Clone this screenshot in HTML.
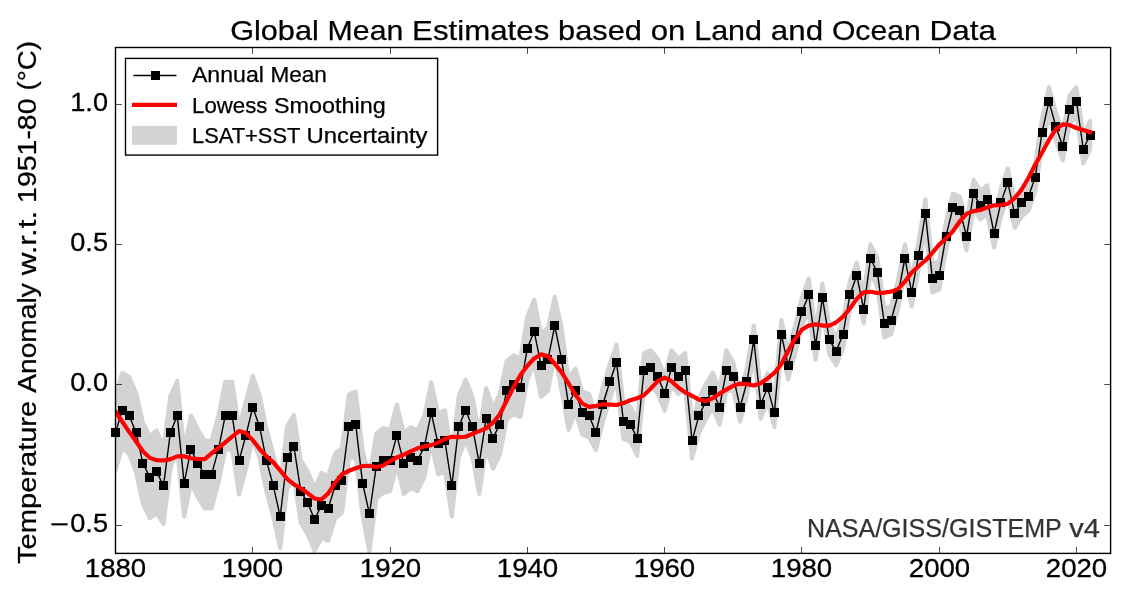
<!DOCTYPE html>
<html lang="en"><head><meta charset="utf-8"><title>Global Mean Estimates based on Land and Ocean Data</title>
<style>html,body{margin:0;padding:0;background:#fff;}body{width:1130px;height:600px;overflow:hidden;}svg{display:block;will-change:transform;}text{font-family:"Liberation Sans",sans-serif;}</style></head><body>
<svg width="1130" height="600" viewBox="0 0 1130 600">
<rect x="0" y="0" width="1130" height="600" fill="#ffffff"/>
<defs><clipPath id="ax"><rect x="115.5" y="47.5" width="995.1" height="505.9"/></clipPath></defs>
<g clip-path="url(#ax)">
<path fill="#d3d3d3" stroke="#d3d3d3" stroke-width="4.17" stroke-linejoin="round" d="M115.47,394.73 L122.33,372.83 L129.2,377.04 L136.06,392.76 L142.93,422.79 L149.79,436.54 L156.65,430.37 L163.52,447.77 L170.38,396.13 L177.25,380.97 L184.11,449.45 L190.97,415.49 L197.84,429.53 L204.7,440.75 L211.57,440.75 L218.43,415.49 L225.29,381.82 L232.16,381.82 L239.02,426.72 L245.89,401.46 L252.75,375.78 L259.61,395.43 L266.48,429.1 L273.34,454.36 L280.21,485.23 L287.07,426.3 L293.93,415.07 L300.8,459.98 L307.66,471.2 L314.53,488.04 L321.39,473.03 L328.25,475.83 L335.12,453.38 L341.98,447.77 L348.85,394.44 L355.71,391.64 L362.57,450.57 L369.44,476.11 L376.3,433.74 L383.17,428.12 L390.03,430.09 L396.89,404.83 L403.76,432.89 L410.62,427.28 L417.49,430.09 L424.35,416.05 L431.21,382.38 L438.08,413.25 L444.94,410.44 L451.81,455.35 L458.67,396.41 L465.53,379.57 L472.4,396.41 L479.26,432.89 L486.13,387.99 L492.99,407.63 L499.85,393.6 L506.72,361.05 L513.58,355.43 L520.45,358.24 L527.31,316.7 L534.17,299.87 L541.04,333.54 L547.9,327.93 L554.77,296.78 L561.63,327.93 L568.49,379.01 L575.36,368.62 L582.22,391.08 L589.09,393.88 L595.95,414.93 L602.81,386.87 L609.68,364.41 L616.54,344.77 L623.41,403.71 L630.27,406.51 L637.13,420.54 L644,353.19 L650.86,350.38 L657.73,358.8 L664.59,375.64 L671.45,350.38 L678.32,358.8 L685.18,353.19 L692.05,423.35 L698.91,398.09 L705.77,384.06 L712.64,372.83 L719.5,389.67 L726.37,350.38 L733.23,362.17 L740.09,393.04 L746.96,367.78 L753.82,325.69 L760.69,390.23 L767.55,373.4 L774.41,398.65 L781.28,320.07 L788.14,350.94 L795.01,325.69 L801.87,297.62 L808.73,278.54 L815.6,331.3 L822.46,283.59 L829.33,325.69 L836.19,336.91 L843.05,320.07 L849.92,280.78 L856.78,262.82 L863.65,294.81 L870.51,244.3 L877.37,258.33 L884.24,308.85 L891.1,306.04 L897.97,280.78 L904.83,244.3 L911.69,277.97 L918.56,241.49 L925.42,199.39 L932.29,263.94 L939.15,261.14 L946.01,221.84 L952.88,193.78 L959.74,196.59 L966.61,221.84 L973.47,179.75 L980.33,190.97 L987.2,185.36 L994.06,219.04 L1000.93,188.17 L1007.79,168.52 L1014.65,199.39 L1021.52,188.17 L1028.38,182.55 L1035.25,162.91 L1042.11,118 L1048.97,87.13 L1055.84,112.39 L1062.7,132.04 L1069.57,95.55 L1076.43,87.13 L1083.29,134.84 L1090.16,120.81 L1090.16,149.21 L1083.29,163.24 L1076.43,115.53 L1069.57,123.95 L1062.7,160.44 L1055.84,140.79 L1048.97,115.53 L1042.11,146.41 L1035.25,191.31 L1028.38,210.96 L1021.52,216.57 L1014.65,227.79 L1007.79,196.92 L1000.93,216.57 L994.06,247.44 L987.2,213.76 L980.33,219.37 L973.47,208.15 L966.61,250.25 L959.74,224.99 L952.88,222.18 L946.01,250.25 L939.15,289.54 L932.29,292.34 L925.42,227.79 L918.56,269.89 L911.69,306.38 L904.83,272.7 L897.97,309.18 L891.1,334.44 L884.24,337.25 L877.37,286.73 L870.51,272.7 L863.65,323.22 L856.78,287.85 L849.92,309.18 L843.05,348.47 L836.19,365.31 L829.33,354.09 L822.46,311.99 L815.6,359.7 L808.73,311.43 L801.87,326.02 L795.01,354.09 L788.14,379.35 L781.28,348.47 L774.41,427.06 L767.55,401.8 L760.69,418.64 L753.82,354.09 L746.96,396.18 L740.09,421.44 L733.23,390.57 L726.37,391.13 L719.5,424.81 L712.64,407.97 L705.77,419.2 L698.91,433.23 L692.05,458.49 L685.18,388.33 L678.32,393.94 L671.45,385.52 L664.59,410.78 L657.73,393.94 L650.86,385.52 L644,388.33 L637.13,455.68 L630.27,441.65 L623.41,438.84 L616.54,379.91 L609.68,399.55 L602.81,422 L595.95,450.07 L589.09,437.44 L582.22,434.63 L575.36,412.18 L568.49,429.86 L561.63,391.13 L554.77,354.93 L547.9,391.13 L541.04,396.75 L534.17,363.07 L527.31,379.91 L520.45,416.95 L513.58,414.15 L506.72,419.76 L499.85,454.56 L492.99,468.59 L486.13,448.95 L479.26,493.85 L472.4,457.37 L465.53,440.53 L458.67,457.37 L451.81,516.3 L444.94,471.4 L438.08,474.21 L431.21,443.33 L424.35,477.01 L417.49,491.04 L410.62,488.24 L403.76,493.85 L396.89,465.79 L390.03,491.04 L383.17,493.01 L376.3,498.62 L369.44,551.66 L362.57,515.46 L355.71,456.52 L348.85,459.33 L341.98,512.65 L335.12,518.27 L328.25,540.72 L321.39,537.91 L314.53,550.96 L307.66,534.12 L300.8,522.9 L293.93,477.99 L287.07,489.22 L280.21,548.16 L273.34,517.28 L266.48,492.03 L259.61,458.35 L252.75,438.7 L245.89,469.15 L239.02,494.41 L232.16,449.51 L225.29,449.51 L218.43,483.19 L211.57,508.44 L204.7,508.44 L197.84,497.22 L190.97,483.19 L184.11,516.58 L177.25,450.35 L170.38,468.87 L163.52,523.88 L156.65,513.22 L149.79,518.27 L142.93,503.95 L136.06,472.24 L129.2,454.28 L122.33,447.26 L115.47,470.28 Z"/>
<polyline fill="none" stroke="#000" stroke-width="1.39" stroke-linejoin="miter" points="115.47,432.5 122.33,410.05 129.2,415.66 136.06,432.5 142.93,463.37 149.79,477.4 156.65,471.79 163.52,485.82 170.38,432.5 177.25,415.66 184.11,483.02 190.97,449.34 197.84,463.37 204.7,474.6 211.57,474.6 218.43,449.34 225.29,415.66 232.16,415.66 239.02,460.57 245.89,435.31 252.75,407.24 259.61,426.89 266.48,460.57 273.34,485.82 280.21,516.7 287.07,457.76 293.93,446.53 300.8,491.44 307.66,502.66 314.53,519.5 321.39,505.47 328.25,508.28 335.12,485.82 341.98,480.21 348.85,426.89 355.71,424.08 362.57,483.02 369.44,513.89 376.3,466.18 383.17,460.57 390.03,460.57 396.89,435.31 403.76,463.37 410.62,457.76 417.49,460.57 424.35,446.53 431.21,412.86 438.08,443.73 444.94,440.92 451.81,485.82 458.67,426.89 465.53,410.05 472.4,426.89 479.26,463.37 486.13,418.47 492.99,438.11 499.85,424.08 506.72,390.4 513.58,384.79 520.45,387.6 527.31,348.31 534.17,331.47 541.04,365.14 547.9,359.53 554.77,325.85 561.63,359.53 568.49,404.44 575.36,390.4 582.22,412.86 589.09,415.66 595.95,432.5 602.81,404.44 609.68,381.98 616.54,362.34 623.41,421.27 630.27,424.08 637.13,438.11 644,370.76 650.86,367.95 657.73,376.37 664.59,393.21 671.45,367.95 678.32,376.37 685.18,370.76 692.05,440.92 698.91,415.66 705.77,401.63 712.64,390.4 719.5,407.24 726.37,370.76 733.23,376.37 740.09,407.24 746.96,381.98 753.82,339.89 760.69,404.44 767.55,387.6 774.41,412.86 781.28,334.27 788.14,365.14 795.01,339.89 801.87,311.82 808.73,294.98 815.6,345.5 822.46,297.79 829.33,339.89 836.19,351.11 843.05,334.27 849.92,294.98 856.78,275.34 863.65,309.01 870.51,258.5 877.37,272.53 884.24,323.05 891.1,320.24 897.97,294.98 904.83,258.5 911.69,292.18 918.56,255.69 925.42,213.59 932.29,278.14 939.15,275.34 946.01,236.05 952.88,207.98 959.74,210.79 966.61,236.05 973.47,193.95 980.33,205.17 987.2,199.56 994.06,233.24 1000.93,202.37 1007.79,182.72 1014.65,213.59 1021.52,202.37 1028.38,196.75 1035.25,177.11 1042.11,132.21 1048.97,101.33 1055.84,126.59 1062.7,146.24 1069.57,109.75 1076.43,101.33 1083.29,149.04 1090.16,135.01"/>
</g>
<g fill="#000">
<rect x="111" y="428" width="9" height="9"/>
<rect x="118" y="406" width="9" height="9"/>
<rect x="125" y="411" width="9" height="9"/>
<rect x="132" y="428" width="9" height="9"/>
<rect x="138" y="459" width="9" height="9"/>
<rect x="145" y="473" width="9" height="9"/>
<rect x="152" y="467" width="9" height="9"/>
<rect x="159" y="481" width="9" height="9"/>
<rect x="166" y="428" width="9" height="9"/>
<rect x="173" y="411" width="9" height="9"/>
<rect x="180" y="479" width="9" height="9"/>
<rect x="186" y="445" width="9" height="9"/>
<rect x="193" y="459" width="9" height="9"/>
<rect x="200" y="470" width="9" height="9"/>
<rect x="207" y="470" width="9" height="9"/>
<rect x="214" y="445" width="9" height="9"/>
<rect x="221" y="411" width="9" height="9"/>
<rect x="228" y="411" width="9" height="9"/>
<rect x="235" y="456" width="9" height="9"/>
<rect x="241" y="431" width="9" height="9"/>
<rect x="248" y="403" width="9" height="9"/>
<rect x="255" y="422" width="9" height="9"/>
<rect x="262" y="456" width="9" height="9"/>
<rect x="269" y="481" width="9" height="9"/>
<rect x="276" y="512" width="9" height="9"/>
<rect x="283" y="453" width="9" height="9"/>
<rect x="289" y="442" width="9" height="9"/>
<rect x="296" y="487" width="9" height="9"/>
<rect x="303" y="498" width="9" height="9"/>
<rect x="310" y="515" width="9" height="9"/>
<rect x="317" y="501" width="9" height="9"/>
<rect x="324" y="504" width="9" height="9"/>
<rect x="331" y="481" width="9" height="9"/>
<rect x="337" y="476" width="9" height="9"/>
<rect x="344" y="422" width="9" height="9"/>
<rect x="351" y="420" width="9" height="9"/>
<rect x="358" y="479" width="9" height="9"/>
<rect x="365" y="509" width="9" height="9"/>
<rect x="372" y="462" width="9" height="9"/>
<rect x="379" y="456" width="9" height="9"/>
<rect x="386" y="456" width="9" height="9"/>
<rect x="392" y="431" width="9" height="9"/>
<rect x="399" y="459" width="9" height="9"/>
<rect x="406" y="453" width="9" height="9"/>
<rect x="413" y="456" width="9" height="9"/>
<rect x="420" y="442" width="9" height="9"/>
<rect x="427" y="408" width="9" height="9"/>
<rect x="434" y="439" width="9" height="9"/>
<rect x="440" y="436" width="9" height="9"/>
<rect x="447" y="481" width="9" height="9"/>
<rect x="454" y="422" width="9" height="9"/>
<rect x="461" y="406" width="9" height="9"/>
<rect x="468" y="422" width="9" height="9"/>
<rect x="475" y="459" width="9" height="9"/>
<rect x="482" y="414" width="9" height="9"/>
<rect x="488" y="434" width="9" height="9"/>
<rect x="495" y="420" width="9" height="9"/>
<rect x="502" y="386" width="9" height="9"/>
<rect x="509" y="380" width="9" height="9"/>
<rect x="516" y="383" width="9" height="9"/>
<rect x="523" y="344" width="9" height="9"/>
<rect x="530" y="327" width="9" height="9"/>
<rect x="537" y="361" width="9" height="9"/>
<rect x="543" y="355" width="9" height="9"/>
<rect x="550" y="321" width="9" height="9"/>
<rect x="557" y="355" width="9" height="9"/>
<rect x="564" y="400" width="9" height="9"/>
<rect x="571" y="386" width="9" height="9"/>
<rect x="578" y="408" width="9" height="9"/>
<rect x="585" y="411" width="9" height="9"/>
<rect x="591" y="428" width="9" height="9"/>
<rect x="598" y="400" width="9" height="9"/>
<rect x="605" y="377" width="9" height="9"/>
<rect x="612" y="358" width="9" height="9"/>
<rect x="619" y="417" width="9" height="9"/>
<rect x="626" y="420" width="9" height="9"/>
<rect x="633" y="434" width="9" height="9"/>
<rect x="639" y="366" width="9" height="9"/>
<rect x="646" y="363" width="9" height="9"/>
<rect x="653" y="372" width="9" height="9"/>
<rect x="660" y="389" width="9" height="9"/>
<rect x="667" y="363" width="9" height="9"/>
<rect x="674" y="372" width="9" height="9"/>
<rect x="681" y="366" width="9" height="9"/>
<rect x="688" y="436" width="9" height="9"/>
<rect x="694" y="411" width="9" height="9"/>
<rect x="701" y="397" width="9" height="9"/>
<rect x="708" y="386" width="9" height="9"/>
<rect x="715" y="403" width="9" height="9"/>
<rect x="722" y="366" width="9" height="9"/>
<rect x="729" y="372" width="9" height="9"/>
<rect x="736" y="403" width="9" height="9"/>
<rect x="742" y="377" width="9" height="9"/>
<rect x="749" y="335" width="9" height="9"/>
<rect x="756" y="400" width="9" height="9"/>
<rect x="763" y="383" width="9" height="9"/>
<rect x="770" y="408" width="9" height="9"/>
<rect x="777" y="330" width="9" height="9"/>
<rect x="784" y="361" width="9" height="9"/>
<rect x="791" y="335" width="9" height="9"/>
<rect x="797" y="307" width="9" height="9"/>
<rect x="804" y="290" width="9" height="9"/>
<rect x="811" y="341" width="9" height="9"/>
<rect x="818" y="293" width="9" height="9"/>
<rect x="825" y="335" width="9" height="9"/>
<rect x="832" y="347" width="9" height="9"/>
<rect x="839" y="330" width="9" height="9"/>
<rect x="845" y="290" width="9" height="9"/>
<rect x="852" y="271" width="9" height="9"/>
<rect x="859" y="305" width="9" height="9"/>
<rect x="866" y="254" width="9" height="9"/>
<rect x="873" y="268" width="9" height="9"/>
<rect x="880" y="319" width="9" height="9"/>
<rect x="887" y="316" width="9" height="9"/>
<rect x="893" y="290" width="9" height="9"/>
<rect x="900" y="254" width="9" height="9"/>
<rect x="907" y="288" width="9" height="9"/>
<rect x="914" y="251" width="9" height="9"/>
<rect x="921" y="209" width="9" height="9"/>
<rect x="928" y="274" width="9" height="9"/>
<rect x="935" y="271" width="9" height="9"/>
<rect x="942" y="232" width="9" height="9"/>
<rect x="948" y="203" width="9" height="9"/>
<rect x="955" y="206" width="9" height="9"/>
<rect x="962" y="232" width="9" height="9"/>
<rect x="969" y="189" width="9" height="9"/>
<rect x="976" y="201" width="9" height="9"/>
<rect x="983" y="195" width="9" height="9"/>
<rect x="990" y="229" width="9" height="9"/>
<rect x="996" y="198" width="9" height="9"/>
<rect x="1003" y="178" width="9" height="9"/>
<rect x="1010" y="209" width="9" height="9"/>
<rect x="1017" y="198" width="9" height="9"/>
<rect x="1024" y="192" width="9" height="9"/>
<rect x="1031" y="173" width="9" height="9"/>
<rect x="1038" y="128" width="9" height="9"/>
<rect x="1044" y="97" width="9" height="9"/>
<rect x="1051" y="122" width="9" height="9"/>
<rect x="1058" y="142" width="9" height="9"/>
<rect x="1065" y="105" width="9" height="9"/>
<rect x="1072" y="97" width="9" height="9"/>
<rect x="1079" y="145" width="9" height="9"/>
<rect x="1086" y="131" width="9" height="9"/>
</g>
<g clip-path="url(#ax)">
<polyline fill="none" stroke="#ff0000" stroke-width="4.17" stroke-linejoin="round" stroke-linecap="square" points="115.47,411.8 122.33,421.78 129.2,431.83 136.06,441.55 142.93,451.18 149.79,457.87 156.65,460.22 163.52,460.43 170.38,459.13 177.25,456.33 184.11,456.33 190.97,458.26 197.84,459.13 204.7,459.13 211.57,453.34 218.43,447.91 225.29,442.3 232.16,436.61 239.02,431.07 245.89,433.09 252.75,440.13 259.61,449.03 266.48,456.38 273.34,462.37 280.21,470.42 287.07,478.84 293.93,484.45 300.8,488.22 307.66,493.18 314.53,498.48 321.39,499.5 328.25,493.39 335.12,482.72 341.98,474.42 348.85,470.8 355.71,468.33 362.57,465.97 369.44,465.75 376.3,466.96 383.17,465.5 390.03,461.19 396.89,457.45 403.76,454.69 410.62,451.33 417.49,448.29 424.35,446.39 431.21,445.16 438.08,442.58 444.94,438.88 451.81,436.86 458.67,437.07 465.53,436.74 472.4,433.93 479.26,431.13 486.13,428.32 492.99,422.71 499.85,414.29 506.72,400.56 513.58,386.99 520.45,375 527.31,365.8 534.17,358.55 541.04,354.38 547.9,356.16 554.77,363.77 561.63,372.39 568.49,383.41 575.36,394.64 582.22,403.5 589.09,406.85 595.95,405.87 602.81,404.16 609.68,404.64 616.54,405.04 623.41,403.06 630.27,400.25 637.13,398.33 644,395.12 650.86,388.42 657.73,381.08 664.59,377.67 671.45,381.16 678.32,387.51 685.18,392.37 692.05,395.83 698.91,399.59 705.77,400.99 712.64,398.32 719.5,393.64 726.37,389.66 733.23,385.73 740.09,383.6 746.96,384.09 753.82,385.56 760.69,383.21 767.55,378.42 774.41,372.96 781.28,364.12 788.14,350.97 795.01,338.89 801.87,329.83 808.73,325.44 815.6,324.37 822.46,325.55 829.33,325.55 836.19,322.26 843.05,316.59 849.92,308.67 856.78,298.82 863.65,292.35 870.51,291.77 877.37,292.99 884.24,292.66 891.1,291.62 897.97,289.14 904.83,281.68 911.69,272.49 918.56,266.24 925.42,260.49 932.29,252.81 939.15,244.68 946.01,238.66 952.88,231.29 959.74,221.47 966.61,213.81 973.47,211.17 980.33,209.95 987.2,207.38 994.06,205.31 1000.93,205.04 1007.79,203.74 1014.65,198.13 1021.52,189.71 1028.38,178.01 1035.25,164.45 1042.11,152.43 1048.97,139.92 1055.84,129.2 1062.7,124.36 1069.57,125.16 1076.43,127.97 1083.29,129.94 1090.16,132.17"/>
</g>
<rect x="115.5" y="47.5" width="995.1" height="505.9" fill="none" stroke="#000" stroke-width="1.39"/>
<g stroke="#000" stroke-width="0.7">
<line x1="115.5" y1="553.4" x2="115.5" y2="547"/>
<line x1="115.5" y1="47.5" x2="115.5" y2="53.9"/>
<line x1="252.5" y1="553.4" x2="252.5" y2="547"/>
<line x1="252.5" y1="47.5" x2="252.5" y2="53.9"/>
<line x1="390.5" y1="553.4" x2="390.5" y2="547"/>
<line x1="390.5" y1="47.5" x2="390.5" y2="53.9"/>
<line x1="527.5" y1="553.4" x2="527.5" y2="547"/>
<line x1="527.5" y1="47.5" x2="527.5" y2="53.9"/>
<line x1="664.5" y1="553.4" x2="664.5" y2="547"/>
<line x1="664.5" y1="47.5" x2="664.5" y2="53.9"/>
<line x1="801.5" y1="553.4" x2="801.5" y2="547"/>
<line x1="801.5" y1="47.5" x2="801.5" y2="53.9"/>
<line x1="939.5" y1="553.4" x2="939.5" y2="547"/>
<line x1="939.5" y1="47.5" x2="939.5" y2="53.9"/>
<line x1="1076.5" y1="553.4" x2="1076.5" y2="547"/>
<line x1="1076.5" y1="47.5" x2="1076.5" y2="53.9"/>
<line x1="115.5" y1="525.5" x2="121.9" y2="525.5"/>
<line x1="1110.6" y1="525.5" x2="1104.2" y2="525.5"/>
<line x1="115.5" y1="384.5" x2="121.9" y2="384.5"/>
<line x1="1110.6" y1="384.5" x2="1104.2" y2="384.5"/>
<line x1="115.5" y1="244.5" x2="121.9" y2="244.5"/>
<line x1="1110.6" y1="244.5" x2="1104.2" y2="244.5"/>
<line x1="115.5" y1="104.5" x2="121.9" y2="104.5"/>
<line x1="1110.6" y1="104.5" x2="1104.2" y2="104.5"/>
</g>
<text y="577.3" font-size="25.6" stroke="#000" stroke-width="0.3"><tspan x="84.79" textLength="61.42" lengthAdjust="spacingAndGlyphs">1880</tspan></text>
<text y="577.3" font-size="25.6" stroke="#000" stroke-width="0.3"><tspan x="221.79" textLength="61.42" lengthAdjust="spacingAndGlyphs">1900</tspan></text>
<text y="577.3" font-size="25.6" stroke="#000" stroke-width="0.3"><tspan x="359.79" textLength="61.42" lengthAdjust="spacingAndGlyphs">1920</tspan></text>
<text y="577.3" font-size="25.6" stroke="#000" stroke-width="0.3"><tspan x="496.79" textLength="61.42" lengthAdjust="spacingAndGlyphs">1940</tspan></text>
<text y="577.3" font-size="25.6" stroke="#000" stroke-width="0.3"><tspan x="633.79" textLength="61.42" lengthAdjust="spacingAndGlyphs">1960</tspan></text>
<text y="577.3" font-size="25.6" stroke="#000" stroke-width="0.3"><tspan x="770.79" textLength="61.42" lengthAdjust="spacingAndGlyphs">1980</tspan></text>
<text y="577.3" font-size="25.6" stroke="#000" stroke-width="0.3"><tspan x="908.79" textLength="61.42" lengthAdjust="spacingAndGlyphs">2000</tspan></text>
<text y="577.3" font-size="25.6" stroke="#000" stroke-width="0.3"><tspan x="1045.79" textLength="61.42" lengthAdjust="spacingAndGlyphs">2020</tspan></text>
<text y="531.9" font-size="25.6" stroke="#000" stroke-width="0.3"><tspan x="70.24" textLength="37.76" lengthAdjust="spacingAndGlyphs">0.5</tspan></text>
<text y="390.9" font-size="25.6" stroke="#000" stroke-width="0.3"><tspan x="70.24" textLength="37.76" lengthAdjust="spacingAndGlyphs">0.0</tspan></text>
<text y="250.9" font-size="25.6" stroke="#000" stroke-width="0.3"><tspan x="70.24" textLength="37.76" lengthAdjust="spacingAndGlyphs">0.5</tspan></text>
<text y="110.9" font-size="25.6" stroke="#000" stroke-width="0.3"><tspan x="70.24" textLength="37.76" lengthAdjust="spacingAndGlyphs">1.0</tspan></text>
<text y="532.7" font-size="25.6" stroke="#000" stroke-width="0.3"><tspan x="50.3" textLength="18.9" lengthAdjust="spacingAndGlyphs">−</tspan></text>
<text y="40.2" font-size="28.5" stroke="#000" stroke-width="0.25"><tspan x="230.16" textLength="88.62" lengthAdjust="spacingAndGlyphs">Global</tspan> <tspan x="327.61" textLength="75.69" lengthAdjust="spacingAndGlyphs">Mean</tspan> <tspan x="412.13" textLength="137.18" lengthAdjust="spacingAndGlyphs">Estimates</tspan> <tspan x="558.13" textLength="83.86" lengthAdjust="spacingAndGlyphs">based</tspan> <tspan x="650.82" textLength="34.6" lengthAdjust="spacingAndGlyphs">on</tspan> <tspan x="694.25" textLength="67.74" lengthAdjust="spacingAndGlyphs">Land</tspan> <tspan x="770.82" textLength="52.26" lengthAdjust="spacingAndGlyphs">and</tspan> <tspan x="831.92" textLength="88.86" lengthAdjust="spacingAndGlyphs">Ocean</tspan> <tspan x="929.61" textLength="66.33" lengthAdjust="spacingAndGlyphs">Data</tspan></text>
<g transform="translate(35.9,302.5) rotate(-90)">
<text y="0" font-size="25.6" stroke="#000" stroke-width="0.25"><tspan x="-261.44" textLength="163.16" lengthAdjust="spacingAndGlyphs">Temperature</tspan> <tspan x="-90.34" textLength="109.66" lengthAdjust="spacingAndGlyphs">Anomaly</tspan> <tspan x="27.26" textLength="64.37" lengthAdjust="spacingAndGlyphs">w.r.t.</tspan> <tspan x="99.58" textLength="104.46" lengthAdjust="spacingAndGlyphs">1951-80</tspan> <tspan x="211.98" textLength="49.46" lengthAdjust="spacingAndGlyphs">(°C)</tspan></text>
</g>
<text y="536.9" font-size="25.6" fill="#333333" stroke="#333333" stroke-width="0.25"><tspan x="806.92" textLength="254.43" lengthAdjust="spacingAndGlyphs">NASA/GISS/GISTEMP</tspan> <tspan x="1069.3" textLength="30.7" lengthAdjust="spacingAndGlyphs">v4</tspan></text>
<rect x="125.5" y="58.4" width="312.1" height="96.7" fill="#fff" stroke="#000" stroke-width="1.39"/>
<line x1="133.4" y1="75.5" x2="176.5" y2="75.5" stroke="#000" stroke-width="1.39"/>
<rect x="151" y="71" width="9" height="9" fill="#000"/>
<line x1="132" y1="104.8" x2="177.0" y2="104.8" stroke="#ff0000" stroke-width="4.17"/>
<rect x="132" y="125.9" width="45" height="18.9" fill="#d3d3d3"/>
<text y="82" font-size="21.4" stroke="#000" stroke-width="0.25"><tspan x="191.94" textLength="71.98" lengthAdjust="spacingAndGlyphs">Annual</tspan> <tspan x="270.5" textLength="56.42" lengthAdjust="spacingAndGlyphs">Mean</tspan></text>
<text y="112.7" font-size="21.4" stroke="#000" stroke-width="0.25"><tspan x="192.06" textLength="75.36" lengthAdjust="spacingAndGlyphs">Lowess</tspan> <tspan x="273.99" textLength="111.77" lengthAdjust="spacingAndGlyphs">Smoothing</tspan></text>
<text y="143.3" font-size="21.4" stroke="#000" stroke-width="0.25"><tspan x="192.06" textLength="107.87" lengthAdjust="spacingAndGlyphs">LSAT+SST</tspan> <tspan x="306.52" textLength="121.08" lengthAdjust="spacingAndGlyphs">Uncertainty</tspan></text>
</svg></body></html>
